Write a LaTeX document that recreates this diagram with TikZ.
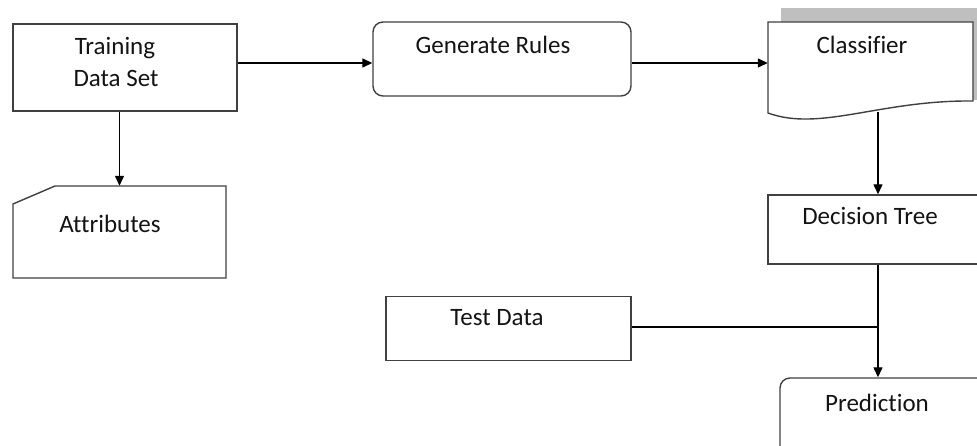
\documentclass[tikz,border=0pt]{standalone}
\usepackage{fontspec}
\setmainfont[Ligatures=NoCommon]{Carlito}
\usetikzlibrary{arrows.meta}

\tikzset{
  boxline/.style={draw=black!75, line width=1.4pt},
  frame/.style={boxline, rectangle, inner sep=0pt, fill=white},
  ghost/.style={rectangle, inner sep=0pt, draw=none},
  lbl/.style={anchor=base, inner sep=0pt, font=\fontsize{25}{29}\selectfont, text=black!92},
  conn/.style={draw=black, line width=1.3pt},
  arr/.style={conn, -{Triangle[length=10pt,width=9pt]}},
}

\begin{document}
\begin{tikzpicture}[x=1pt,y=-1pt]
\useasboundingbox (0,0) rectangle (977,446);
\clip (0,0) rectangle (977,446);

% Training data set
\node[frame, minimum width=224pt, minimum height=87pt] (train) at (125,67.5) {};
\node[lbl] (trainA) at (115,55) {Training};
\node[lbl] (trainB) at (116,87) {Data Set};

% Rule generation step
\node[frame, rounded corners=10pt, minimum width=258pt, minimum height=74pt] (rules) at (502,59) {};
\node[lbl] (rulesT) at (493,54) {Generate Rules};

% Classifier document with its grey backing
\fill[black!25] (781,8) rectangle (990,100);
\draw[boxline, fill=white] (768,22) -- (973,22) -- (973,101)
  .. controls (880,100) and (820,132) .. (768,113) -- cycle;
\node[ghost, minimum width=205pt, minimum height=91pt] (clf) at (870.5,67.5) {};
\node[lbl] (clfT) at (862,54) {Classifier};

% Attributes card
\draw[boxline, fill=white] (13,204) -- (55,186) -- (226,186) -- (226,278) -- (13,278) -- cycle;
\node[ghost, minimum width=213pt, minimum height=92pt] (attr) at (119.5,232) {};
\node[lbl] (attrT) at (110,233) {Attributes};

% Decision tree
\node[frame, minimum width=222pt, minimum height=69pt] (tree) at (879,229.5) {};
\node[lbl] (treeT) at (870,225) {Decision Tree};

% Test data
\node[frame, minimum width=245pt, minimum height=64pt] (test) at (508.5,328.5) {};
\node[lbl] (testT) at (497,326) {Test Data};

% Prediction
\node[frame, rounded corners=10pt, minimum width=210pt, minimum height=82pt] (pred) at (885,419) {};
\node[lbl] (predT) at (877,411) {Prediction};

% Connectors
\draw[arr] (train.east |- 0,63) -- (rules.west |- 0,63);
\draw[arr] (rules.east |- 0,63) -- (clf.west |- 0,63);
\draw[arr] (train.south -| attr.north) -- (attr.north);
\draw[arr] (878,112) -- (tree.north -| 878,0);
\coordinate (join) at (878,327);
\draw[conn] (test.east |- join) -- (join);
\draw[arr] (tree.south -| join) -- (pred.north -| join);
\end{tikzpicture}
\end{document}
